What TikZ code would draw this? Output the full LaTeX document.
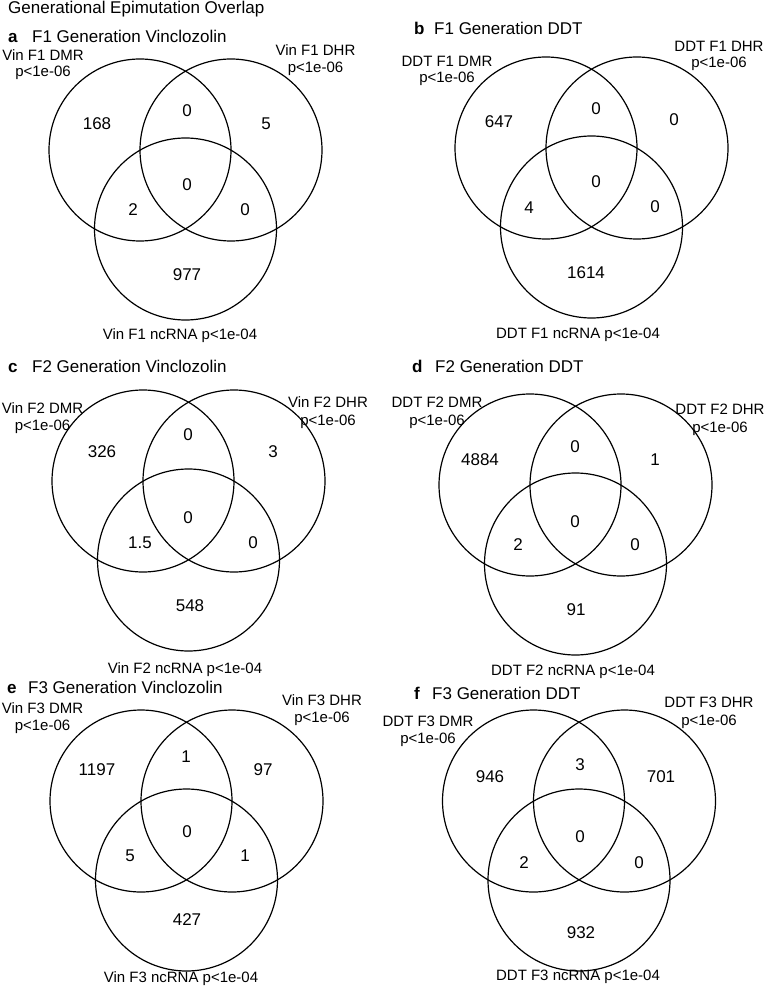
\documentclass[tikz,border=0pt]{standalone}
\usepackage{fontspec}
\setmainfont{Liberation Sans}
\begin{document}
\begin{tikzpicture}[x=1pt,y=-1pt,
  num/.style={font=\fontsize{17}{17}\selectfont, inner sep=0pt},
  lab/.style={font=\fontsize{15}{17}\selectfont, inner sep=0pt, anchor=base},
  ttl/.style={font=\fontsize{17}{17}\selectfont, inner sep=0pt, anchor=base west},
  ltr/.style={font=\bfseries\fontsize{17}{17}\selectfont, inner sep=0pt, anchor=base west},
  ring/.style={line width=1.2pt, draw=black}]
\useasboundingbox (0,0) rectangle (764,992);
\node[ttl] (hdr) at (8,13.5) {Generational Epimutation Overlap};

% ---------- panel a ----------
\node[ltr] (aL) at (8,43) {a};
\node[ttl] (aT) at (32,43) {F1 Generation Vinclozolin};
\draw[ring] (140,150) circle (91pt);
\draw[ring] (231,150) circle (91pt);
\draw[ring] (185.5,229) circle (91pt);
\node[lab] (aA1) at (43,61) {Vin F1 DMR};
\node[lab] (aA2) at (43,77) {p<1e-06};
\node[lab] (aB1) at (315.5,56) {Vin F1 DHR};
\node[lab] (aB2) at (315.5,73) {p<1e-06};
\node[lab] (aC) at (180,339) {Vin F1 ncRNA p<1e-04};
\node[num] (a1) at (97,124) {168};
\node[num] (a2) at (187,111) {0};
\node[num] (a3) at (266,124) {5};
\node[num] (a4) at (187,185) {0};
\node[num] (a5) at (133,210) {2};
\node[num] (a6) at (245,210) {0};
\node[num] (a7) at (187,275) {977};

% ---------- panel b ----------
\node[ltr] (bL) at (414,35) {b};
\node[ttl] (bT) at (434,35) {F1 Generation DDT};
\draw[ring] (546,148) circle (91pt);
\draw[ring] (637,148) circle (91pt);
\draw[ring] (591.5,227) circle (91pt);
\node[lab] (bA1) at (447,67) {DDT F1 DMR};
\node[lab] (bA2) at (447,83) {p<1e-06};
\node[lab] (bB1) at (719,52) {DDT F1 DHR};
\node[lab] (bB2) at (719,68) {p<1e-06};
\node[lab] (bC) at (578,338) {DDT F1 ncRNA p<1e-04};
\node[num] (b1) at (499,122) {647};
\node[num] (b2) at (596,109) {0};
\node[num] (b3) at (674,120) {0};
\node[num] (b4) at (596,182) {0};
\node[num] (b5) at (529,208) {4};
\node[num] (b6) at (655,207) {0};
\node[num] (b7) at (586,273) {1614};

% ---------- panel c ----------
\node[ltr] (cL) at (8,372) {c};
\node[ttl] (cT) at (32,372) {F2 Generation Vinclozolin};
\draw[ring] (143,481) circle (91pt);
\draw[ring] (234,481) circle (91pt);
\draw[ring] (188.5,560) circle (91pt);
\node[lab] (cA1) at (42.5,413) {Vin F2 DMR};
\node[lab] (cA2) at (42.5,430) {p<1e-06};
\node[lab] (cB1) at (328,407) {Vin F2 DHR};
\node[lab] (cB2) at (328,425) {p<1e-06};
\node[lab] (cC) at (185,673) {Vin F2 ncRNA p<1e-04};
\node[num] (c1) at (102,452) {326};
\node[num] (c2) at (188,435) {0};
\node[num] (c3) at (273,452) {3};
\node[num] (c4) at (188,518) {0};
\node[num] (c5) at (140,543) {1.5};
\node[num] (c6) at (253,543) {0};
\node[num] (c7) at (190,606) {548};

% ---------- panel d ----------
\node[ltr] (dL) at (412,372) {d};
\node[ttl] (dT) at (435,372) {F2 Generation DDT};
\draw[ring] (530,485) circle (91pt);
\draw[ring] (621,485) circle (91pt);
\draw[ring] (575.5,564) circle (91pt);
\node[lab] (dA1) at (437,407) {DDT F2 DMR};
\node[lab] (dA2) at (437,425) {p<1e-06};
\node[lab] (dB1) at (720,414) {DDT F2 DHR};
\node[lab] (dB2) at (720,432) {p<1e-06};
\node[lab] (dC) at (573,675) {DDT F2 ncRNA p<1e-04};
\node[num] (d1) at (480,460) {4884};
\node[num] (d2) at (575,447) {0};
\node[num] (d3) at (655,460) {1};
\node[num] (d4) at (575,522) {0};
\node[num] (d5) at (518,545) {2};
\node[num] (d6) at (635,545) {0};
\node[num] (d7) at (576,610) {91};

% ---------- panel e ----------
\node[ltr] (eL) at (7,693) {e};
\node[ttl] (eT) at (28,693) {F3 Generation Vinclozolin};
\draw[ring] (141,801) circle (91pt);
\draw[ring] (232,801) circle (91pt);
\draw[ring] (186.5,880) circle (91pt);
\node[lab] (eA1) at (42.5,713) {Vin F3 DMR};
\node[lab] (eA2) at (42.5,730) {p<1e-06};
\node[lab] (eB1) at (322,705) {Vin F3 DHR};
\node[lab] (eB2) at (322,722) {p<1e-06};
\node[lab] (eC) at (181,982) {Vin F3 ncRNA p<1e-04};
\node[num] (e1) at (97,770) {1197};
\node[num] (e2) at (186,757) {1};
\node[num] (e3) at (263,770) {97};
\node[num] (e4) at (187,832) {0};
\node[num] (e5) at (130,856) {5};
\node[num] (e6) at (245,856) {1};
\node[num] (e7) at (187,920) {427};

% ---------- panel f ----------
\node[ltr] (fL) at (414,699) {f};
\node[ttl] (fT) at (432,699) {F3 Generation DDT};
\draw[ring] (533.5,801) circle (91pt);
\draw[ring] (624.5,801) circle (91pt);
\draw[ring] (579,880) circle (91pt);
\node[lab] (fA1) at (428,726) {DDT F3 DMR};
\node[lab] (fA2) at (428,743) {p<1e-06};
\node[lab] (fB1) at (709,707) {DDT F3 DHR};
\node[lab] (fB2) at (709,725) {p<1e-06};
\node[lab] (fC) at (578,980) {DDT F3 ncRNA p<1e-04};
\node[num] (f1) at (490,777) {946};
\node[num] (f2) at (580,765) {3};
\node[num] (f3) at (661,777) {701};
\node[num] (f4) at (580,837) {0};
\node[num] (f5) at (524,863) {2};
\node[num] (f6) at (639,863) {0};
\node[num] (f7) at (581,933) {932};
\end{tikzpicture}
\end{document}
